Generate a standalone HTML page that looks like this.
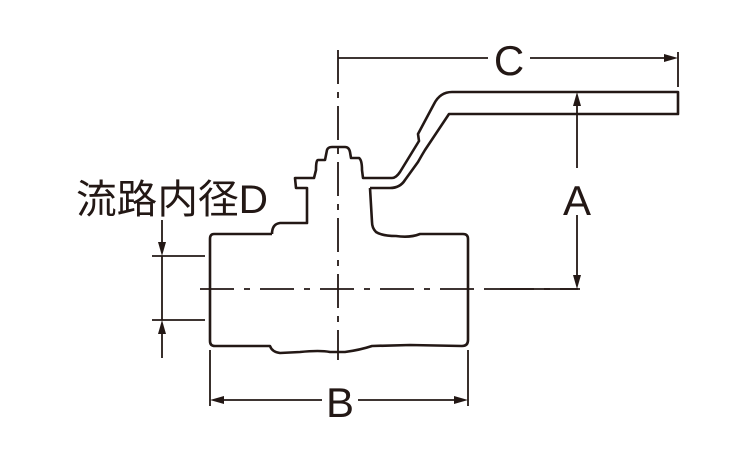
<!DOCTYPE html>
<html><head><meta charset="utf-8"><style>
html,body{margin:0;padding:0;background:#fff;width:750px;height:450px;overflow:hidden}
svg{display:block}
text{font-family:"Liberation Sans","Noto Sans CJK JP",sans-serif;fill:#231815}
</style></head><body>
<svg width="750" height="450" viewBox="0 0 750 450" xmlns="http://www.w3.org/2000/svg">
<g fill="none" stroke="#231815" stroke-width="2.6" stroke-linejoin="round">
<path d="M272,234 L214,234 Q210,234 210,239 L210,341 Q210,346 215,346 L270,346 Q272,352 280,353 L300,352 Q320,350 330,352 L345,352 Q360,350 372,346 L410,345 L462,346 Q468,346 468,340 L468,239 Q468,234 463,234 L420,234 Q410,238 396,236 Q382,236 376,232 Q372,228 372,222 L370,188"/>
<path d="M272,234 Q272,224 280,223 L307,223 L307,188 L296,188 L295,178 L314,178 L316,170 Q316,160 318,160 L325,160 L327,150 Q328,147 332,147 L345,147 Q349,147 350,152 L351,158 L359,158 Q362,160 362,170 L363,178 L392,178 Q396,178 400,172 L419,141 L418,134 L434,104 Q440,92 452,92 L678,92 L678,114 L449,114 L425,150 L422,155 L418,162 L405,180 Q400,188 390,188 L370,188"/>
</g>
<g stroke="#231815" stroke-width="1.8" fill="none">
<path d="M200,289 L578,289" stroke-dasharray="34,10,6,10"/>
<path d="M338,50 L338,360" stroke-dasharray="34,8,6,8"/>
<line x1="338" y1="58" x2="488" y2="58"/><line x1="530" y1="58" x2="668" y2="58"/>
<line x1="678" y1="52" x2="678" y2="87"/>
<line x1="577" y1="100" x2="577" y2="168"/><line x1="577" y1="215" x2="577" y2="280"/>
<line x1="490" y1="289" x2="580" y2="289"/>
<line x1="210" y1="350" x2="210" y2="406"/><line x1="468" y1="350" x2="468" y2="406"/>
<line x1="218" y1="400" x2="322" y2="400"/><line x1="358" y1="400" x2="460" y2="400"/>
<line x1="152" y1="256" x2="205" y2="256"/><line x1="152" y1="320" x2="205" y2="320"/>
<line x1="162" y1="220" x2="162" y2="250"/><line x1="162" y1="326" x2="162" y2="358"/>
<line x1="162" y1="256" x2="162" y2="320"/>
</g>
<g fill="#231815">
<polygon points="678,58 664,54 664,62"/>
<polygon points="577,92 573,106 581,106"/>
<polygon points="577,289 573,275 581,275"/>
<polygon points="210,400 224,396 224,404"/>
<polygon points="468,400 454,396 454,404"/>
<polygon points="162,256 158,242 166,242"/>
<polygon points="162,320 158,334 166,334"/>
</g>
<text x="509" y="75" font-size="42" text-anchor="middle">C</text>
<text x="577" y="215" font-size="42" text-anchor="middle">A</text>
<text x="340" y="417" font-size="42" text-anchor="middle">B</text>
<text x="76" y="213" font-size="40" textLength="192" lengthAdjust="spacingAndGlyphs">流路内径D</text>
</svg>
</body></html>
